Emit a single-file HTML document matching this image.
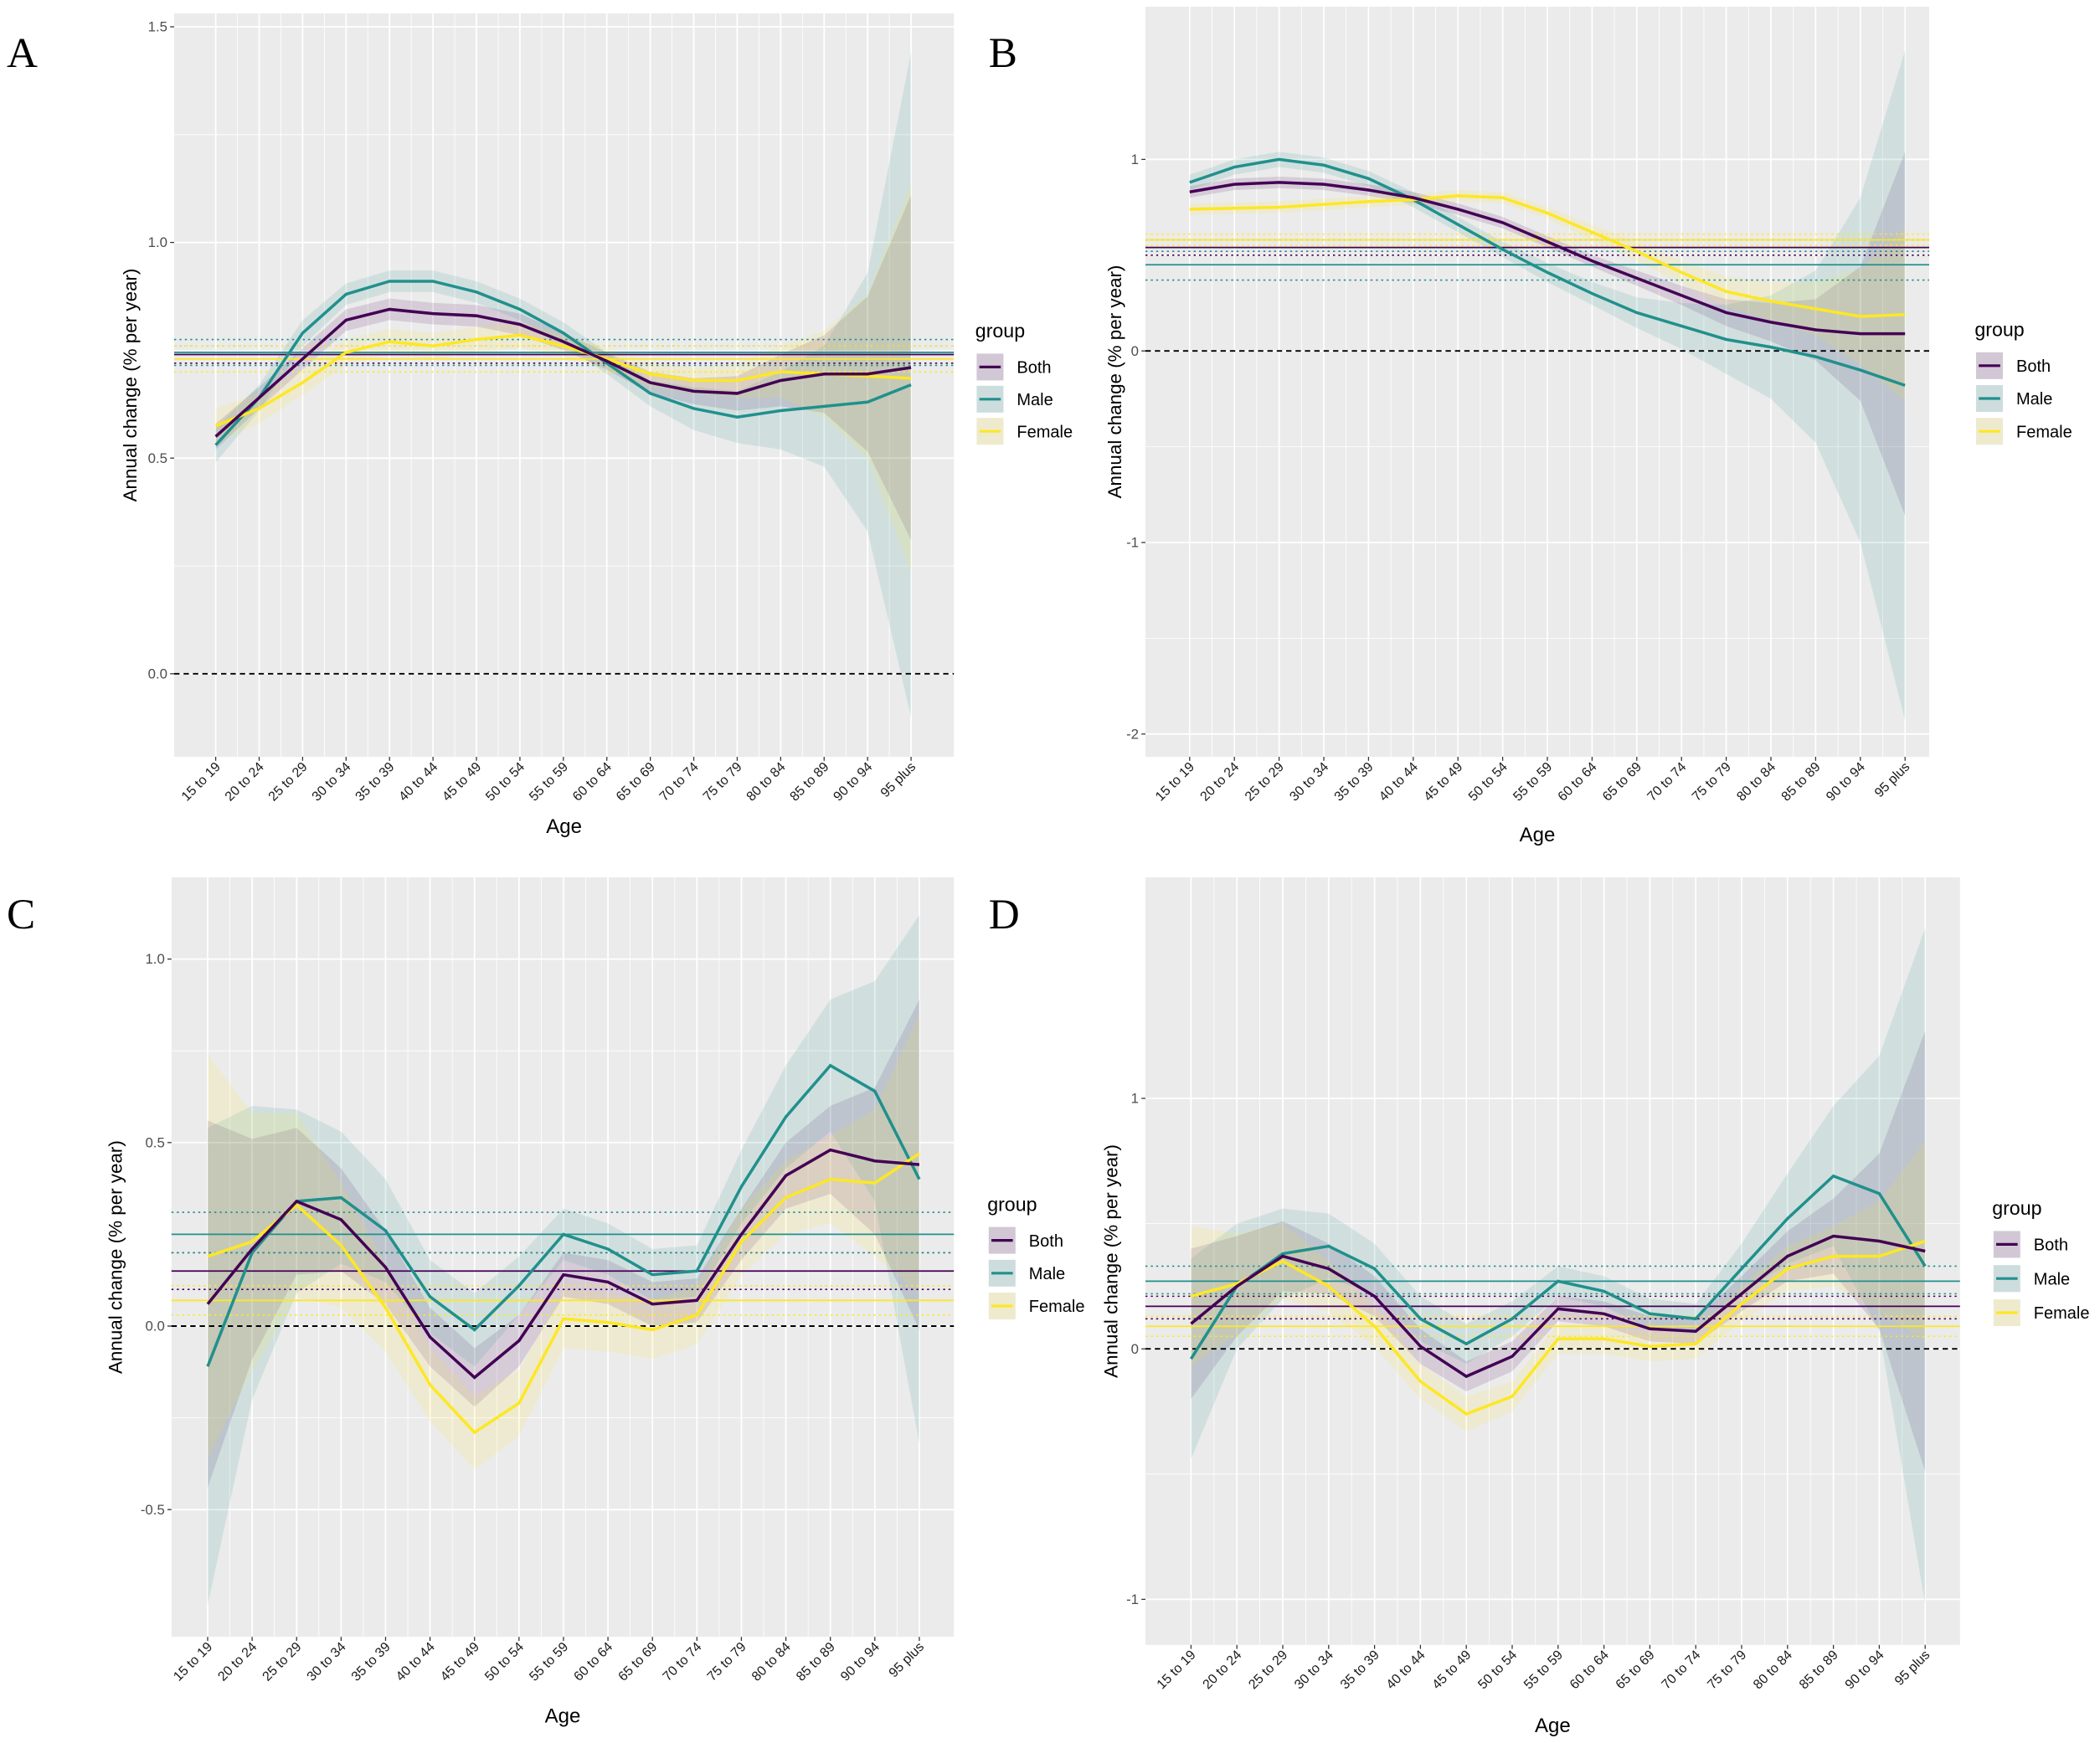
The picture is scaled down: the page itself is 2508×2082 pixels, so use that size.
<!DOCTYPE html>
<html><head><meta charset="utf-8"><style>
html,body{margin:0;padding:0;background:#fff}
svg{display:block}
text{font-family:"Liberation Sans",sans-serif}
text.serif{font-family:"Liberation Serif",serif}
</style></head><body>
<svg id="chart" width="2508" height="2082" viewBox="0 0 1567.5 1301.25" xmlns="http://www.w3.org/2000/svg"></svg>
<script>
const categories=["15 to 19","20 to 24","25 to 29","30 to 34","35 to 39","40 to 44","45 to 49","50 to 54","55 to 59","60 to 64","65 to 69","70 to 74","75 to 79","80 to 84","85 to 89","90 to 94","95 plus"];
const groups=["Both","Male","Female"];
// Panel A
const aBoth=[0.55,0.64,0.73,0.82,0.845,0.835,0.83,0.81,0.77,0.725,0.675,0.655,0.65,0.68,0.695,0.695,0.71];
const aMale=[0.53,0.64,0.79,0.88,0.91,0.91,0.885,0.845,0.79,0.72,0.65,0.615,0.595,0.61,0.62,0.63,0.67];
const aFemale=[0.575,0.615,0.675,0.745,0.77,0.76,0.775,0.785,0.76,0.73,0.695,0.68,0.68,0.70,0.695,0.69,0.685];
const aBothHW=[0.03,0.025,0.025,0.025,0.025,0.025,0.025,0.025,0.02,0.02,0.025,0.03,0.04,0.06,0.09,0.18,0.4];
const aMaleHW=[0.04,0.03,0.03,0.025,0.025,0.025,0.025,0.025,0.025,0.025,0.03,0.05,0.06,0.09,0.14,0.3,0.77];
const aFemaleHW=[0.04,0.035,0.03,0.03,0.03,0.03,0.03,0.03,0.025,0.025,0.03,0.03,0.04,0.06,0.1,0.19,0.45];
const aLines=[0.74,0.745,0.73];
const aLow=[0.72,0.715,0.70];
const aHigh=[0.76,0.775,0.76];
const aTicks=[0,0.5,1.0,1.5];
const aTickLabels=["0.0","0.5","1.0","1.5"];
// Panel B
const bBoth=[0.83,0.87,0.88,0.87,0.84,0.80,0.74,0.67,0.57,0.47,0.38,0.29,0.20,0.15,0.11,0.09,0.09];
const bMale=[0.88,0.96,1.00,0.97,0.90,0.79,0.66,0.53,0.41,0.30,0.20,0.13,0.06,0.02,-0.03,-0.10,-0.18];
const bFemale=[0.74,0.745,0.75,0.765,0.78,0.79,0.81,0.80,0.72,0.62,0.52,0.41,0.31,0.26,0.22,0.18,0.19];
const bBothHW=[0.03,0.03,0.03,0.03,0.03,0.03,0.03,0.03,0.03,0.03,0.04,0.05,0.07,0.1,0.16,0.35,0.95];
const bMaleHW=[0.04,0.04,0.04,0.04,0.04,0.04,0.04,0.04,0.05,0.06,0.08,0.12,0.18,0.27,0.45,0.9,1.75];
const bFemaleHW=[0.03,0.03,0.03,0.03,0.03,0.03,0.03,0.03,0.03,0.04,0.05,0.06,0.08,0.1,0.14,0.25,0.45];
const bLines=[0.54,0.45,0.58];
const bLow=[0.50,0.37,0.55];
const bHigh=[0.58,0.52,0.61];
const bTicks=[-2,-1,0,1];
const bTickLabels=["-2","-1","0","1"];
// Panel C
const cBoth=[0.06,0.21,0.34,0.29,0.16,-0.03,-0.14,-0.04,0.14,0.12,0.06,0.07,0.25,0.41,0.48,0.45,0.44];
const cMale=[-0.11,0.20,0.34,0.35,0.26,0.08,-0.01,0.11,0.25,0.21,0.14,0.15,0.38,0.57,0.71,0.64,0.40];
const cFemale=[0.19,0.23,0.33,0.22,0.05,-0.16,-0.29,-0.21,0.02,0.01,-0.01,0.03,0.23,0.35,0.40,0.39,0.47];
const cBothHW=[0.5,0.3,0.2,0.14,0.1,0.08,0.08,0.07,0.06,0.06,0.06,0.06,0.07,0.09,0.12,0.2,0.45];
const cMaleHW=[0.65,0.4,0.25,0.18,0.14,0.1,0.1,0.08,0.07,0.07,0.07,0.07,0.1,0.14,0.18,0.3,0.72];
const cFemaleHW=[0.55,0.35,0.25,0.17,0.12,0.1,0.1,0.09,0.08,0.08,0.08,0.08,0.09,0.1,0.12,0.2,0.38];
const cLines=[0.15,0.25,0.07];
const cLow=[0.10,0.20,0.03];
const cHigh=[0.20,0.31,0.11];
const cTicks=[-0.5,0,0.5,1.0];
const cTickLabels=["-0.5","0.0","0.5","1.0"];
// Panel D
const dBoth=[0.10,0.25,0.37,0.32,0.21,0.01,-0.11,-0.03,0.16,0.14,0.08,0.07,0.22,0.37,0.45,0.43,0.39];
const dMale=[-0.04,0.25,0.38,0.41,0.32,0.12,0.02,0.12,0.27,0.23,0.14,0.12,0.32,0.52,0.69,0.62,0.33];
const dFemale=[0.21,0.26,0.35,0.25,0.09,-0.13,-0.26,-0.19,0.04,0.04,0.01,0.02,0.18,0.32,0.37,0.37,0.43];
const dBothHW=[0.3,0.2,0.14,0.1,0.08,0.07,0.06,0.06,0.05,0.05,0.05,0.05,0.07,0.1,0.15,0.35,0.88];
const dMaleHW=[0.4,0.25,0.18,0.13,0.1,0.09,0.08,0.07,0.06,0.06,0.06,0.06,0.1,0.18,0.28,0.55,1.35];
const dFemaleHW=[0.28,0.2,0.15,0.1,0.08,0.07,0.07,0.06,0.06,0.06,0.06,0.06,0.07,0.09,0.12,0.22,0.4];
const dLines=[0.17,0.27,0.09];
const dLow=[0.12,0.22,0.05];
const dHigh=[0.21,0.33,0.13];
const dTicks=[-1,0,1];
const dTickLabels=["-1","0","1"];

const colors=["#440154","#21908C","#FDE725"];
const NS="http://www.w3.org/2000/svg";
const svg=document.getElementById('chart');
function mk(tag,attrs,parent,text){const e=document.createElementNS(NS,tag);for(const k in attrs)e.setAttribute(k,attrs[k]);if(text!==undefined)e.textContent=text;(parent||svg).appendChild(e);return e;}

function panel(cfg){
  const g=mk('g',{});
  
  
  const X=i=>cfg.x0+i*cfg.dx;
  const Y=v=>cfg.y0-cfg.ky*v;
  const bg=mk('rect',{x:cfg.L,y:cfg.T,width:cfg.R-cfg.L,height:cfg.B-cfg.T,fill:'#EBEBEB'},g);
  
  
  for(let k=0;k<cfg.ticks.length-1;k++){const v=(cfg.ticks[k]+cfg.ticks[k+1])/2;mk('line',{x1:cfg.L,x2:cfg.R,y1:Y(v),y2:Y(v),stroke:'#fff','stroke-width':0.5},g);}
  cfg.ticks.forEach((v,k)=>{
    mk('line',{x1:cfg.L,x2:cfg.R,y1:Y(v),y2:Y(v),stroke:'#fff','stroke-width':1.1},g);
    mk('line',{x1:cfg.L-3,x2:cfg.L,y1:Y(v),y2:Y(v),stroke:'#333','stroke-width':0.8},g);
    const t=mk('text',{x:cfg.L-5,y:Y(v)+3.5,'text-anchor':'end','font-size':10.5,fill:'#4D4D4D'},g,cfg.tickLabels[k]);
    
    
  });
  categories.forEach((c,i)=>{
    mk('line',{x1:X(i),x2:X(i),y1:cfg.T,y2:cfg.B,stroke:'#fff','stroke-width':1.1},g);
    if(i<categories.length-1)mk('line',{x1:X(i+0.5),x2:X(i+0.5),y1:cfg.T,y2:cfg.B,stroke:'#fff','stroke-width':0.5},g);
    mk('line',{x1:X(i),x2:X(i),y1:cfg.B,y2:cfg.B+3,stroke:'#333','stroke-width':0.8},g);
    const t=mk('text',{x:X(i)+4,y:cfg.B+8,'text-anchor':'end','font-size':10,fill:'#1a1a1a',transform:`rotate(-45 ${X(i)+4} ${cfg.B+8})`},g,c);
    
    
  });
  cfg.series.forEach((s,gi)=>{
    const hw=cfg.hws[gi];
    let d='';s.forEach((v,i)=>{d+=(i?'L':'M')+X(i)+','+Y(v+hw[i]);});
    for(let i=s.length-1;i>=0;i--)d+='L'+X(i)+','+Y(s[i]-hw[i]);
    const p=mk('path',{d:d+'Z',fill:colors[gi],'fill-opacity':0.13},g);
    
    
  });
  const z=mk('line',{x1:cfg.L,x2:cfg.R,y1:Y(0),y2:Y(0),stroke:'#000','stroke-width':1.2,'stroke-dasharray':'4,3'},g);
  
  
  cfg.lines.forEach((v,gi)=>{
    [cfg.low[gi],cfg.high[gi]].forEach(w=>{const l=mk('line',{x1:cfg.L,x2:cfg.R,y1:Y(w),y2:Y(w),stroke:colors[gi],'stroke-width':1,'stroke-dasharray':'1.5,2.5'},g);
      
      });
    const l=mk('line',{x1:cfg.L,x2:cfg.R,y1:Y(v),y2:Y(v),stroke:colors[gi],'stroke-width':1.1},g);
    
    
  });
  [1,2,0].forEach(gi=>{
    const s=cfg.series[gi];
    const p=mk('polyline',{points:s.map((v,i)=>X(i)+','+Y(v)).join(' '),fill:'none',stroke:colors[gi],'stroke-width':2.2},g);
    
    
  });
  const yt=mk('text',{x:cfg.ytx,y:(cfg.T+cfg.B)/2,'text-anchor':'middle','font-size':14,fill:'#000',transform:`rotate(-90 ${cfg.ytx} ${(cfg.T+cfg.B)/2})`},g,'Annual change (% per year)');
  
  
  const xt=mk('text',{x:(cfg.L+cfg.R)/2,y:cfg.xty,'text-anchor':'middle','font-size':15,fill:'#000'},g,'Age');
  
  
  const pl=mk('text',{x:cfg.lx,y:cfg.ly,'font-size':32,fill:'#000','class':'serif'},g,cfg.id);
  
  
  const lg=mk('g',{},g);
  
  
  mk('text',{x:cfg.gx,y:cfg.gy,'font-size':14.5,fill:'#000'},lg,'group');
  groups.forEach((n,gi)=>{
    const cy=cfg.gy+22+gi*cfg.gs;
    const e=mk('g',{},lg);
    
    
    mk('rect',{x:cfg.gx+1,y:cy-10,width:20,height:20,fill:'#EBEBEB'},e);
    mk('rect',{x:cfg.gx+1,y:cy-10,width:20,height:20,fill:colors[gi],'fill-opacity':0.15},e);
    mk('line',{x1:cfg.gx+3,x2:cfg.gx+19,y1:cy,y2:cy,stroke:colors[gi],'stroke-width':2},e);
    mk('text',{x:cfg.gx+31,y:cy+4.5,'font-size':12.5,fill:'#000'},e,n);
  });
}
panel({id:'A',L:130,R:712,T:10,B:565,x0:161,dx:32.44,y0:503,ky:322,ticks:aTicks,tickLabels:aTickLabels,series:[aBoth,aMale,aFemale],hws:[aBothHW,aMaleHW,aFemaleHW],lines:aLines,low:aLow,high:aHigh,ytx:102,xty:622,lx:5,ly:50,gx:728,gy:252,gs:24});
panel({id:'B',L:855,R:1440,T:5,B:565,x0:888,dx:33.375,y0:262,ky:143,ticks:bTicks,tickLabels:bTickLabels,series:[bBoth,bMale,bFemale],hws:[bBothHW,bMaleHW,bFemaleHW],lines:bLines,low:bLow,high:bHigh,ytx:837,xty:628,lx:738,ly:50,gx:1474,gy:251,gs:24.5});
panel({id:'C',L:128,R:712,T:655,B:1222,x0:155,dx:33.2,y0:990,ky:274,ticks:cTicks,tickLabels:cTickLabels,series:[cBoth,cMale,cFemale],hws:[cBothHW,cMaleHW,cFemaleHW],lines:cLines,low:cLow,high:cHigh,ytx:91,xty:1286,lx:5,ly:693,gx:737,gy:904,gs:24.5});
panel({id:'D',L:855,R:1463,T:655,B:1228,x0:889,dx:34.25,y0:1007,ky:187,ticks:dTicks,tickLabels:dTickLabels,series:[dBoth,dMale,dFemale],hws:[dBothHW,dMaleHW,dFemaleHW],lines:dLines,low:dLow,high:dHigh,ytx:834,xty:1293,lx:738,ly:693,gx:1487,gy:907,gs:25.5});
</script>
</body></html>
